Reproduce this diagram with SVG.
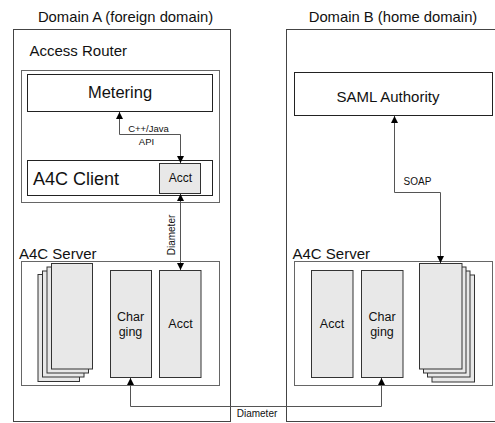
<svg xmlns="http://www.w3.org/2000/svg" width="495" height="423" viewBox="0 0 495 423">
<style>
text{font-family:"Liberation Sans",Arial,sans-serif;fill:#111}
.dom{fill:none;stroke:#444;stroke-width:1}
.grp{fill:none;stroke:#666;stroke-width:1}
.box{fill:#fff;stroke:#222;stroke-width:1}
.gbox{fill:#e8e8e8;stroke:#333;stroke-width:1}
.conn{fill:none;stroke:#555;stroke-width:1}
.mid{text-anchor:middle}
</style>
<defs>
<marker id="ah" viewBox="0 0 8 8" refX="8" refY="4" markerWidth="7" markerHeight="7" markerUnits="userSpaceOnUse" orient="auto-start-reverse">
<path d="M0,0 L8,4 L0,8 z" fill="#000"/>
</marker>
</defs>
<rect width="495" height="423" fill="#fff"/>

<g id="domainA">
<rect class="dom" x="13.5" y="29.5" width="217" height="392"/>
<text class="mid" x="125.5" y="22" font-size="14.8">Domain A (foreign domain)</text>
</g>
<g id="domainB">
<rect class="dom" x="286.5" y="29.5" width="215" height="392"/>
<text class="mid" x="393" y="22" font-size="14.8">Domain B (home domain)</text>
</g>

<g id="accessRouter">
<rect class="grp" x="21.5" y="70.5" width="198" height="132"/>
<text x="29.5" y="56" font-size="15">Access Router</text>
</g>
<g id="metering">
<rect class="box" x="27.5" y="74.5" width="185" height="37"/>
<text class="mid" x="120" y="97.5" font-size="16.5">Metering</text>
</g>
<g id="a4cClient">
<rect class="box" x="27.5" y="160.5" width="185" height="35"/>
<text x="33" y="184.5" font-size="18">A4C Client</text>
</g>
<g id="clientAcct">
<rect class="gbox" x="159.5" y="163.5" width="41" height="30"/>
<text class="mid" x="180.5" y="182" font-size="12">Acct</text>
</g>

<g id="serverA">
<rect class="grp" x="21.5" y="261.5" width="198" height="124"/>
<text x="19" y="259" font-size="15">A4C Server</text>
</g>
<g id="pagesA">
<rect class="gbox" x="38" y="274.5" width="41.5" height="107"/>
<rect class="gbox" x="42.5" y="271" width="41.5" height="106"/>
<rect class="gbox" x="47" y="267" width="41.5" height="106"/>
<rect class="gbox" x="51.5" y="263.5" width="41" height="105.5"/>
</g>
<g id="chargingA">
<rect class="gbox" x="110.5" y="270.5" width="41" height="107"/>
<text class="mid" x="130.5" y="321" font-size="12.5">Char</text>
<text class="mid" x="130.5" y="336" font-size="12.5">ging</text>
</g>
<g id="acctA">
<rect class="gbox" x="159.5" y="270.5" width="41.5" height="107"/>
<text class="mid" x="180.5" y="328" font-size="12.5">Acct</text>
</g>

<g id="saml">
<rect class="box" x="294.5" y="72.5" width="198" height="43"/>
<text class="mid" x="388" y="102" font-size="15">SAML Authority</text>
</g>
<g id="serverB">
<rect class="grp" x="294.5" y="261.5" width="198" height="124"/>
<text x="292.5" y="259" font-size="15">A4C Server</text>
</g>
<g id="acctB">
<rect class="gbox" x="311.5" y="270.5" width="41.5" height="107"/>
<text class="mid" x="332" y="328" font-size="12.5">Acct</text>
</g>
<g id="chargingB">
<rect class="gbox" x="361.5" y="270.5" width="41.5" height="107"/>
<text class="mid" x="382" y="321" font-size="12.5">Char</text>
<text class="mid" x="382" y="336" font-size="12.5">ging</text>
</g>
<g id="pagesB">
<rect class="gbox" x="432" y="275" width="42.5" height="107"/>
<rect class="gbox" x="427.5" y="271" width="42.5" height="106"/>
<rect class="gbox" x="423.5" y="267" width="42.5" height="106"/>
<rect class="gbox" x="419.5" y="263.5" width="42.5" height="105.5"/>
</g>

<g id="connectors">
<path class="conn" d="M180.5,163 V134.5 H119.5 V112" marker-start="url(#ah)" marker-end="url(#ah)"/>
<text class="mid" x="148.5" y="131.5" font-size="9.5">C++/Java</text>
<text class="mid" x="146.5" y="145" font-size="9.5">API</text>
<path class="conn" d="M180.5,194 V270" marker-start="url(#ah)" marker-end="url(#ah)"/>
<text class="mid" font-size="10" transform="translate(174.5,235) rotate(-90)">Diameter</text>
<path class="conn" d="M394.5,116 V192.5 H440.5 V263" marker-start="url(#ah)" marker-end="url(#ah)"/>
<text class="mid" x="417.5" y="185" font-size="10">SOAP</text>
<path class="conn" d="M130.5,378 V406.5 H381.5 V378" marker-start="url(#ah)" marker-end="url(#ah)"/>
<text class="mid" x="257" y="416.5" font-size="10">Diameter</text>
</g>
</svg>
